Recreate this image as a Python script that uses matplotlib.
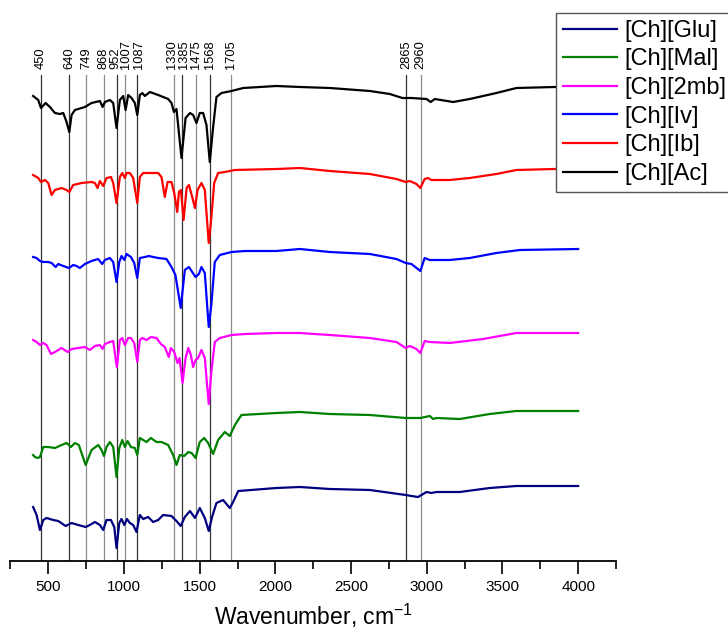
import numpy as np
import matplotlib
matplotlib.use("Agg")
import matplotlib.pyplot as plt
from matplotlib.ticker import MultipleLocator

plt.rcParams['font.family'] = ['Liberation Sans', 'DejaVu Sans']
plt.rcParams['mathtext.fontset'] = 'custom'
plt.rcParams['mathtext.rm'] = 'Liberation Sans'
plt.rcParams['mathtext.it'] = 'Liberation Sans'

# spectra, stacked (arbitrary units, offset per sample)
ac_wn = [400, 434, 452, 483, 511, 544, 577, 599, 621, 639, 654, 676, 742, 786, 841, 859, 874, 907, 929, 951,
         973, 995, 1011, 1028, 1050, 1072, 1088, 1105, 1121, 1138, 1171, 1226, 1292, 1314, 1330, 1347, 1380,
         1407, 1436, 1457, 1479, 1501, 1523, 1545, 1567, 1589, 1611, 1644, 1710, 1788, 2007, 2162, 2360, 2624,
         2756, 2839, 2899, 2998, 3026, 3053, 3174, 3284, 3460, 3592, 3844, 4000]
ac_val = [467, 463, 455, 460, 456, 450, 449, 450, 441, 431, 448, 453, 456, 460, 462, 456, 461, 463, 460, 435,
          463, 467, 453, 468, 465, 460, 448, 468, 470, 467, 471, 468, 464, 460, 451, 454, 405,
          445, 450, 448, 440, 450, 450, 438, 401, 436, 466, 470, 472, 475, 477, 476, 475, 472,
          469, 465, 465, 464, 461, 464, 461, 464, 470, 475, 476, 476]

ib_wn = [400, 434, 452, 478, 500, 522, 544, 588, 621, 639, 665, 720, 786, 808, 826, 841, 863, 885, 914, 929,
         951, 973, 989, 1006, 1017, 1039, 1061, 1088, 1105, 1127, 1171, 1226, 1248, 1270, 1288, 1314, 1332,
         1352, 1363, 1376, 1394, 1414, 1429, 1451, 1469, 1486, 1512, 1534, 1560, 1574, 1596, 1622, 1666, 1732,
         2007, 2162, 2360, 2624, 2800, 2861, 2888, 2932, 2958, 2986, 3008, 3030, 3152, 3284, 3460, 3592,
         3844, 4000]
ib_val = [388, 385, 381, 383, 380, 368, 373, 375, 373, 371, 378, 380, 381, 380, 375, 382, 377, 385, 386, 380,
          360, 386, 390, 385, 390, 390, 385, 360, 386, 390, 390, 390, 386, 366, 381, 381, 370,
          351, 371, 373, 343, 375, 378, 366, 355, 373, 380, 373, 320, 340, 380, 390, 391, 393,
          394, 395, 392, 389, 384, 381, 382, 379, 375, 384, 385, 383, 383, 385, 389, 393,
          394, 394]

iv_wn = [400, 423, 445, 467, 500, 522, 549, 566, 599, 637, 665, 687, 709, 742, 786, 830, 856, 874, 907, 929,
         951, 969, 984, 1002, 1017, 1046, 1068, 1088, 1105, 1138, 1165, 1193, 1226, 1281, 1314, 1340, 1375,
         1402, 1429, 1451, 1473, 1495, 1512, 1534, 1560, 1577, 1600, 1633, 1710, 1798, 2007, 2162, 2360, 2624,
         2800, 2861, 2899, 2958, 2986, 3020, 3152, 3284, 3460, 3614, 4000]
iv_val = [306, 305, 302, 301, 301, 300, 296, 299, 297, 295, 298, 297, 295, 299, 302, 304, 299, 303, 305, 301,
          281, 301, 307, 303, 309, 306, 300, 285, 305, 306, 307, 306, 305, 304, 296, 288, 255,
          293, 296, 291, 286, 289, 296, 290, 236, 258, 301, 308, 311, 312, 312, 314, 311, 309,
          304, 300, 299, 292, 305, 303, 303, 305, 310, 313, 314]

mb_wn = [400, 423, 445, 467, 489, 518, 544, 588, 628, 654, 698, 742, 775, 808, 841, 859, 874, 907, 929, 953,
         973, 989, 1006, 1028, 1046, 1068, 1088, 1105, 1121, 1149, 1178, 1215, 1244, 1270, 1296, 1310, 1332,
         1354, 1367, 1387, 1407, 1425, 1442, 1457, 1473, 1490, 1512, 1534, 1560, 1577, 1600, 1633, 1710, 1798,
         2007, 2162, 2360, 2624, 2800, 2861, 2888, 2932, 2958, 2986, 3020, 3152, 3372, 3592, 4000]
mb_val = [223, 221, 218, 220, 218, 209, 211, 215, 211, 214, 215, 216, 213, 217, 218, 214, 219, 221, 222, 196,
          223, 225, 218, 225, 225, 220, 201, 223, 225, 223, 226, 225, 219, 216, 206, 215, 211,
          200, 205, 180, 205, 215, 208, 196, 203, 205, 213, 205, 159, 191, 221, 225, 228, 229,
          230, 230, 228, 225, 221, 215, 217, 214, 210, 222, 221, 220, 224, 230, 230]

mal_wn = [400, 412, 430, 445, 467, 500, 544, 588, 621, 650, 676, 702, 747, 786, 830, 852, 868, 885, 907, 929,
          951, 969, 989, 1006, 1024, 1046, 1072, 1088, 1105, 1127, 1149, 1178, 1215, 1248, 1292, 1325, 1347,
          1369, 1398, 1425, 1447, 1473, 1501, 1530, 1556, 1589, 1622, 1666, 1699, 1733, 1776, 2007, 2162,
          2360, 2624, 2861, 2958, 3020, 3042, 3064, 3218, 3416, 3592, 4000]
mal_val = [108, 106, 105, 106, 116, 116, 115, 118, 120, 116, 120, 118, 98, 113, 118, 113, 107, 116, 121, 116,
           86, 115, 123, 116, 122, 116, 115, 108, 125, 123, 121, 125, 121, 121, 118, 108, 98,
           108, 107, 111, 110, 105, 121, 125, 120, 109, 123, 131, 127, 138, 148, 150, 151,
           149, 148, 145, 145, 147, 144, 145, 144, 149, 152, 152]

glu_wn = [400, 423, 445, 467, 489, 533, 566, 615, 654, 698, 747, 775, 808, 841, 863, 885, 914, 936, 951, 969,
          984, 1002, 1020, 1039, 1061, 1083, 1105, 1127, 1160, 1193, 1226, 1259, 1314, 1347, 1375, 1402, 1436,
          1469, 1501, 1534, 1560, 1582, 1611, 1655, 1699, 1721, 1755, 2007, 2162, 2360, 2624, 2861, 2899,
          2943, 2998, 3030, 3064, 3218, 3416, 3592, 4000]
glu_val = [56, 48, 33, 43, 45, 43, 42, 37, 40, 38, 36, 38, 41, 38, 33, 43, 43, 36, 15, 40,
           44, 38, 44, 40, 38, 31, 48, 44, 46, 41, 43, 48, 47, 42, 37, 46, 52,
           45, 55, 45, 32, 46, 60, 63, 55, 61, 72, 75, 76, 74, 73, 68, 67,
           66, 71, 70, 71, 71, 75, 77, 77]

names = ['[Ch][Glu]', '[Ch][Mal]', '[Ch][2mb]', '[Ch][Iv]', '[Ch][Ib]', '[Ch][Ac]']
colors = ['#000080', '#008000', '#ff00ff', '#0000ff', '#ff0000', '#000000']
spectra = [(glu_wn, glu_val), (mal_wn, mal_val), (mb_wn, mb_val),
           (iv_wn, iv_val), (ib_wn, ib_val), (ac_wn, ac_val)]

# marked bands
bands = [450, 640, 749, 868, 952, 1007, 1087, 1330, 1385, 1475, 1568, 1705, 2865, 2960]
band_dark = [True, True, False, False, True, False, True, False, True, False, True, False, True, False]
# small sideways nudges (points) so the crowded labels just touch
label_nudge = {952: -1.2, 1007: 1.0, 1087: 1.2, 1330: -1.2, 1385: 1.0}

fig = plt.figure(figsize=(7.28, 6.35), dpi=100)
ax = fig.add_axes([10.4 / 728, 74 / 635, (616 - 10.4) / 728, 561 / 635])

for b, dark in zip(bands, band_dark):
    ax.plot([b, b], [2, 488], color='#333333' if dark else '#8c8c8c', lw=0.9, zorder=1)
    ax.annotate(str(b), xy=(b, 494), xytext=(label_nudge.get(b, 0), 0), textcoords='offset points',
                rotation=90, ha='center', va='bottom', fontsize=9.3)

for (wn, val), name, c in zip(spectra, names, colors):
    ax.plot(wn, val, color=c, lw=1.6, label=name, zorder=3)

ax.set_xlim(250, 4250)
ax.set_ylim(2, 563)
ax.xaxis.set_major_locator(MultipleLocator(500))
ax.xaxis.set_minor_locator(MultipleLocator(250))
ax.tick_params(axis='x', which='major', length=9, width=1.2, labelsize=11, pad=5)
ax.tick_params(axis='x', which='minor', length=6, width=1.2)
ax.set_yticks([])
for side in ['top', 'left', 'right']:
    ax.spines[side].set_visible(False)
ax.spines['bottom'].set_linewidth(1.3)
ax.set_xlabel('Wavenumber, cm$^{-1}$', fontsize=16.5, labelpad=5)

leg = fig.legend(loc='upper left', bbox_to_anchor=(556 / 728, 1 - 12.7 / 635), fontsize=17,
                 frameon=True, fancybox=False, edgecolor='#555555', framealpha=1,
                 handlelength=2.3, handletextpad=0.3, labelspacing=0.28, borderpad=0.3,
                 borderaxespad=0)
leg.get_frame().set_linewidth(1.0)

fig.savefig('out.png', dpi=100)
